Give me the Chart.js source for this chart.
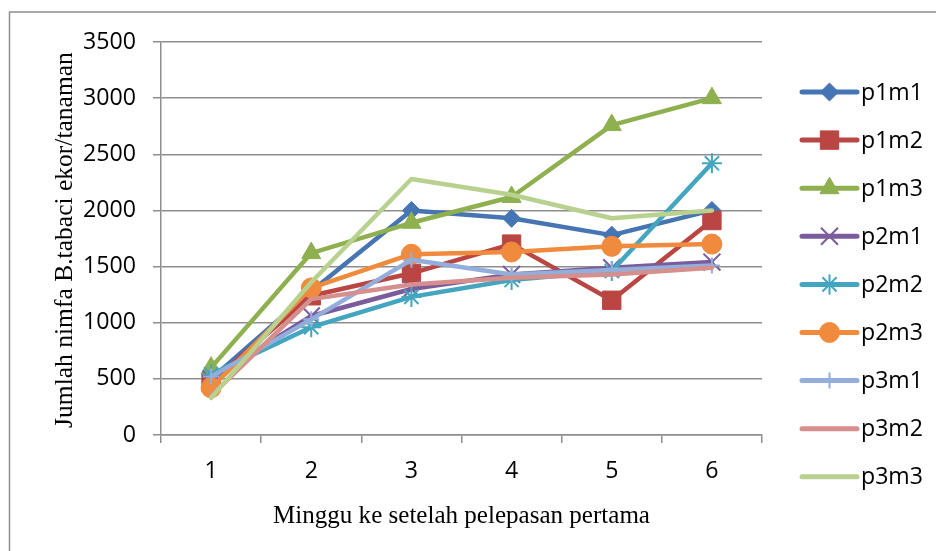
<!DOCTYPE html>
<html>
<head>
<meta charset="utf-8">
<script src="https://cdn.jsdelivr.net/npm/chart.js@4.4.1/dist/chart.umd.min.js"></script>
<style>
  html, body { margin: 0; padding: 0; background: #ffffff; }
  #wrap { width: 936px; height: 551px; position: relative; }
</style>
</head>
<body>
<div id="wrap"><canvas id="c" width="936" height="551"></canvas></div>
<script>
// ---- data ----
const weeks = ['1', '2', '3', '4', '5', '6'];
const seriesNames = ['p1m1', 'p1m2', 'p1m3', 'p2m1', 'p2m2', 'p2m3', 'p3m1', 'p3m2', 'p3m3'];
const p1m1 = [500, 1280, 2000, 1930, 1780, 2000];
const p1m2 = [470, 1240, 1440, 1700, 1200, 1910];
const p1m3 = [600, 1620, 1890, 2120, 2760, 3000];
const p2m1 = [500, 1060, 1300, 1430, 1490, 1540];
const p2m2 = [540, 960, 1230, 1380, 1460, 2420];
const p2m3 = [420, 1310, 1610, 1630, 1680, 1700];
const p3m1 = [520, 1030, 1560, 1430, 1470, 1510];
const p3m2 = [350, 1210, 1340, 1400, 1430, 1490];
const p3m3 = [330, 1360, 2280, 2140, 1930, 2000];
const yTicks = [0, 500, 1000, 1500, 2000, 2500, 3000, 3500];
const yTitle = 'Jumlah nimfa B.tabaci ekor/tanaman';
const xTitle = 'Minggu ke setelah pelepasan pertama';

const values = [p1m1, p1m2, p1m3, p2m1, p2m2, p2m3, p3m1, p3m2, p3m3];
const colors = ['#4675B3', '#BA4643', '#8FB04F', '#7A5C9C', '#43A5BF', '#F08A3C', '#93AEDA', '#D68F8D', '#B9D18F'];
const markers = [
  { style: 'rectRot', r: 9, bw: 1 },
  { style: 'rect', r: 13, bw: 1 },
  { style: 'triangle', r: 11, bw: 1 },
  { style: 'crossRot', r: 12, bw: 2 },
  { style: 'star', r: 10, bw: 2 },
  { style: 'circle', r: 10, bw: 1 },
  { style: 'cross', r: 8, bw: 2 },
  { style: false, r: 0, bw: 0 },
  { style: false, r: 0, bw: 0 }
];

// ---- fonts fitted to measured widths ----
const SANS = '"Open Sans", "Liberation Sans", sans-serif';
const SERIF = '"Liberation Serif", "DejaVu Serif", serif';
const mctx = document.createElement('canvas').getContext('2d');
function fitSize(text, family, target) {
  mctx.font = '100px ' + family;
  return 100 * target / mctx.measureText(text).width;
}
const tickSize = fitSize('3500', SANS, 53);
const legendSize = fitSize('p1m1', SANS, 62);
const xTitleSize = fitSize(xTitle, SERIF, 377);
const yTitleSize = fitSize(yTitle, SERIF, 376);

const GRID = '#8e8e8e';

const decor = {
  id: 'decor',
  beforeDraw(chart) {
    const ctx = chart.ctx;
    ctx.save();
    ctx.fillStyle = '#ffffff';
    ctx.fillRect(0, 0, chart.width, chart.height);
    ctx.strokeStyle = GRID;
    ctx.lineWidth = 1.5;
    ctx.strokeRect(9.5, 12, 2000, 2000);
    ctx.restore();
  },
  afterDraw(chart) {
    const ctx = chart.ctx;
    const ca = chart.chartArea;
    ctx.save();
    // axis titles
    ctx.fillStyle = '#000000';
    ctx.textBaseline = 'alphabetic';
    ctx.textAlign = 'center';
    ctx.font = xTitleSize + 'px ' + SERIF;
    ctx.fillText(xTitle, (ca.left + ca.right) / 2, 523);
    ctx.save();
    ctx.translate(72, 240);
    ctx.rotate(-Math.PI / 2);
    ctx.font = yTitleSize + 'px ' + SERIF;
    ctx.fillText(yTitle, 0, 0);
    ctx.restore();
    // legend
    const x0 = 802, x1 = 857, y0 = 92, step = 48.1;
    seriesNames.forEach((name, i) => {
      const y = y0 + i * step;
      ctx.strokeStyle = colors[i];
      ctx.lineWidth = 5;
      ctx.lineCap = 'round';
      ctx.beginPath();
      ctx.moveTo(x0, y);
      ctx.lineTo(x1, y);
      ctx.stroke();
      const m = markers[i];
      if (m.style) {
        ctx.fillStyle = colors[i];
        ctx.strokeStyle = colors[i];
        ctx.lineCap = 'butt';
        ctx.lineWidth = m.bw;
        Chart.helpers.drawPoint(ctx, { pointStyle: m.style, radius: m.r, rotation: 0, borderWidth: m.bw }, (x0 + x1) / 2, y);
      }
      ctx.fillStyle = '#000000';
      ctx.textAlign = 'left';
      ctx.textBaseline = 'middle';
      ctx.font = legendSize + 'px ' + SANS;
      ctx.fillText(name, 861, y + 1);
    });
    ctx.restore();
  }
};

const datasets = seriesNames.map((name, i) => ({
  label: name,
  data: values[i],
  borderColor: colors[i],
  backgroundColor: colors[i],
  borderWidth: 4.5,
  borderJoinStyle: 'round',
  borderCapStyle: 'round',
  tension: 0,
  pointStyle: markers[i].style,
  pointRadius: markers[i].r,
  pointHoverRadius: markers[i].r,
  pointBorderWidth: markers[i].bw,
  pointBorderColor: colors[i],
  pointBackgroundColor: colors[i],
  order: seriesNames.length - i
}));

new Chart(document.getElementById('c'), {
  type: 'line',
  data: { labels: weeks, datasets },
  plugins: [decor],
  options: {
    responsive: false,
    animation: false,
    events: [],
    layout: { padding: { left: 0, top: 42, right: 174, bottom: 0 } },
    plugins: { legend: { display: false }, tooltip: { enabled: false }, title: { display: false } },
    scales: {
      x: {
        type: 'category',
        offset: true,
        grid: { offset: true, drawOnChartArea: false, drawTicks: true, tickLength: 8, color: GRID, lineWidth: 1.5 },
        border: { display: true, color: GRID, width: 1.5 },
        ticks: { color: '#000000', font: { family: SANS, size: tickSize }, padding: 14, maxRotation: 0 },
        afterFit: (s) => { s.height = 116; }
      },
      y: {
        min: 0,
        max: 3500,
        afterBuildTicks: (s) => { s.ticks = yTicks.map(v => ({ value: v })); },
        grid: { color: GRID, lineWidth: 1.5, drawTicks: true, tickLength: 8 },
        border: { display: true, color: GRID, width: 1.5 },
        ticks: { color: '#000000', font: { family: SANS, size: tickSize }, padding: 17, callback: (v) => String(v) },
        afterFit: (s) => { s.width = 161; }
      }
    }
  }
});
</script>
</body>
</html>
